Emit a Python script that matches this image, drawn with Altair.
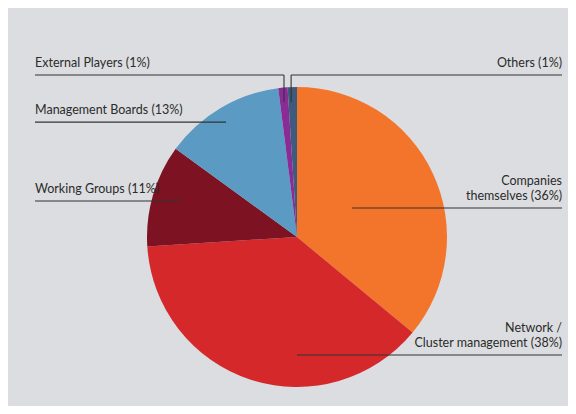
import math
import altair as alt
import pandas as pd

# ---- data ----
labels = ["Companies themselves", "Network / Cluster management", "Working Groups",
          "Management Boards", "External Players", "Others"]
values = [36, 38, 11, 13, 1, 1]
colors = ["#f3742b", "#d4282b", "#7c1222", "#5b9ac2", "#8a2c96", "#3e5a7c"]
label_lines = [["Companies", "themselves (36%)"],
               ["Network /", "Cluster management (38%)"],
               ["Working Groups (11%)"],
               ["Management Boards (13%)"],
               ["External Players  (1%)"],
               ["Others (1%)"]]

# ---- layout ----
W, H = 560, 398
CX, CY, R = 289, 229, 150
LEFT_X, RIGHT_X = 27, 554
ELBOW_Y = 67
TEXT_GAP, LINE_H = 8, 15
FONT = "Lato"
FS = 12.5
# leader anchor inside the pie: (angle in degrees clockwise from top, radius fraction)
anchors = [(62.2, 0.415), (180.0, 0.787), (287.4, 0.803), (328.3, 0.90),
           (354.5, 0.904), (357.5, 0.901)]
sides = ["right", "right", "left", "left", "left", "right"]
elbow = [False, False, False, False, True, True]

slices = pd.DataFrame({"label": labels, "value": values, "order": list(range(len(labels)))})

segs, texts = [], []
for i, lab in enumerate(labels):
    a, f = anchors[i]
    ax = CX + R * f * math.sin(math.radians(a))
    ay = CY - R * f * math.cos(math.radians(a))
    outer_x = RIGHT_X if sides[i] == "right" else LEFT_X
    if elbow[i]:
        segs.append({"x": ax, "y": ay, "x2": ax, "y2": ELBOW_Y})
        line_y = ELBOW_Y
    else:
        line_y = ay
    segs.append({"x": ax, "y": line_y, "x2": outer_x, "y2": line_y})
    n = len(label_lines[i])
    for j, t in enumerate(label_lines[i]):
        texts.append({"x": outer_x, "y": line_y - TEXT_GAP - (n - 1 - j) * LINE_H,
                      "text": t, "side": sides[i]})

segs = pd.DataFrame(segs)
texts = pd.DataFrame(texts)

xs = alt.Scale(domain=[0, W], range=[0, W], nice=False, zero=False)
ys = alt.Scale(domain=[0, H], range=[0, H], nice=False, zero=False)

pie = alt.Chart(slices).mark_arc(radius=R, stroke=None).encode(
    theta=alt.Theta("value:Q", stack=True),
    order=alt.Order("order:Q"),
    color=alt.Color("label:N", scale=alt.Scale(domain=labels, range=colors), legend=None),
    x=alt.value(CX),
    y=alt.value(CY),
)

rules = alt.Chart(segs).mark_rule(color="#333333", strokeWidth=1.1).encode(
    x=alt.X("x:Q", scale=xs, axis=None),
    y=alt.Y("y:Q", scale=ys, axis=None),
    x2="x2:Q",
    y2="y2:Q",
)

def text_layer(side, align):
    return alt.Chart(texts).transform_filter(alt.datum.side == side).mark_text(
        align=align, baseline="alphabetic", font=FONT, fontSize=FS, color="#2b2b2b"
    ).encode(
        x=alt.X("x:Q", scale=xs, axis=None),
        y=alt.Y("y:Q", scale=ys, axis=None),
        text="text:N",
    )

chart = alt.layer(pie, rules, text_layer("left", "left"), text_layer("right", "right")).properties(
    width=W, height=H, padding=0, background="#dcdde0"
).configure_view(stroke=None)

chart.save("out.html", embed_options={"renderer": "svg", "actions": False})
